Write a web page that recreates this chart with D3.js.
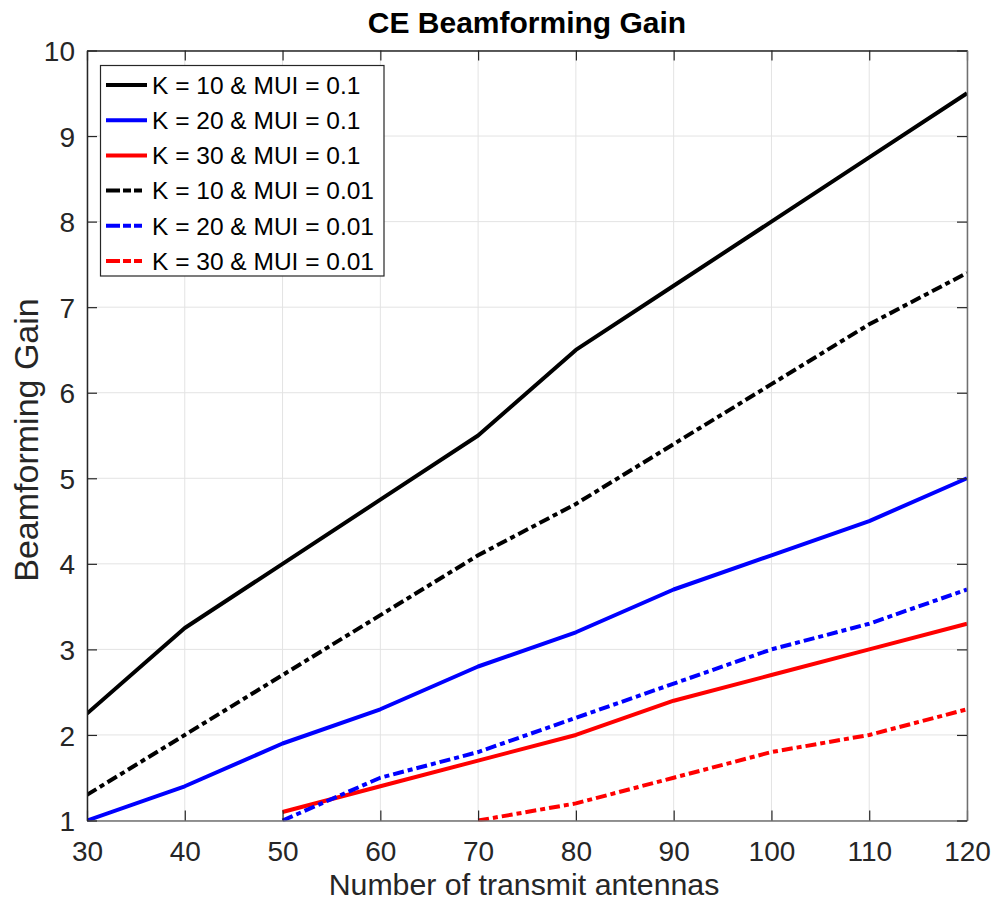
<!DOCTYPE html>
<html><head><meta charset="utf-8">
<script src="https://cdn.jsdelivr.net/npm/d3@7/dist/d3.min.js"></script>
<style>body{margin:0;background:#fff}svg{display:block;font-family:"Liberation Sans",Arial,sans-serif}</style>
</head><body><svg id="c" width="994" height="907"></svg>
<script>
const xTicks = [30,40,50,60,70,80,90,100,110,120];
const yTicks = [1,2,3,4,5,6,7,8,9,10];
const xK10a = [30,40,50,60,70,80,90,100,110,120];
const yK10a = [2.25,3.25,4.0,4.75,5.5,6.5,7.25,8.0,8.75,9.5];
const xK20a = [30,40,50,60,70,80,90,100,110,120];
const yK20a = [1.0,1.4,1.9,2.3,2.8,3.2,3.7,4.1,4.5,5.0];
const xK30a = [50,60,70,80,90,100,110,120];
const yK30a = [1.1,1.4,1.7,2.0,2.4,2.7,3.0,3.3];
const xK10b = [30,40,50,60,70,80,90,100,110,120];
const yK10b = [1.3,2.0,2.7,3.4,4.1,4.7,5.4,6.1,6.8,7.4];
const xK20b = [50,60,70,80,90,100,110,120];
const yK20b = [1.0,1.5,1.8,2.2,2.6,3.0,3.3,3.7];
const xK30b = [70,80,90,100,110,120];
const yK30b = [1.0,1.2,1.5,1.8,2.0,2.3];
const seriesNames = ["K = 10 & MUI = 0.1","K = 20 & MUI = 0.1","K = 30 & MUI = 0.1","K = 10 & MUI = 0.01","K = 20 & MUI = 0.01","K = 30 & MUI = 0.01"];
const colors = ["#000000","#0000ff","#ff0000","#000000","#0000ff","#ff0000"];
const dashed = [false,false,false,true,true,true];
const xs = [xK10a,xK20a,xK30a,xK10b,xK20b,xK30b];
const ys = [yK10a,yK20a,yK30a,yK10b,yK20b,yK30b];

const L=87,T=50.5,R=967,B=820.5;
const svg=d3.select("#c");
const x=d3.scaleLinear().domain([30,120]).range([L,R]);
const y=d3.scaleLinear().domain([1,10]).range([B,T]);
const grid=svg.append("g");
grid.selectAll(".gx").data(xTicks).join("line").attr("x1",d=>x(d)).attr("x2",d=>x(d)).attr("y1",T).attr("y2",B).attr("stroke","#e3e3e3").attr("stroke-width",1);
grid.selectAll(".gy").data(yTicks).join("line").attr("y1",d=>y(d)).attr("y2",d=>y(d)).attr("x1",L).attr("x2",R).attr("stroke","#e3e3e3").attr("stroke-width",1);

svg.append("clipPath").attr("id","pc").append("rect").attr("x",L).attr("y",T-3).attr("width",R-L+2).attr("height",B-T+4);
const line=d3.line().x(d=>x(d[0])).y(d=>y(d[1]));
const lg=svg.append("g").attr("clip-path","url(#pc)");
xs.forEach((xv,i)=>{
  lg.append("path").datum(xv.map((v,j)=>[v,ys[i][j]])).attr("d",line).attr("fill","none")
    .attr("stroke",colors[i]).attr("stroke-width",4).attr("stroke-linejoin","round")
    .attr("stroke-dasharray",dashed[i]?"11,4,5,4":null);
});

const ax=svg.append("g");
const xb=d3.axisBottom(x).tickValues(xTicks).tickSizeInner(-10).tickSizeOuter(0).tickPadding(21);
const yl=d3.axisLeft(y).tickValues(yTicks).tickSizeInner(-10).tickSizeOuter(0).tickPadding(12);
const gx=ax.append("g").attr("transform",`translate(0,${B})`).call(xb);
const gy=ax.append("g").attr("transform",`translate(${L},0)`).call(yl);
const gxt=ax.append("g").attr("transform",`translate(0,${T})`).call(d3.axisTop(x).tickValues(xTicks).tickSizeInner(-10).tickSizeOuter(0).tickFormat(""));
const gyr=ax.append("g").attr("transform",`translate(${R},0)`).call(d3.axisRight(y).tickValues(yTicks).tickSizeInner(-10).tickSizeOuter(0).tickFormat(""));
[gx,gy,gxt,gyr].forEach(g=>{
  g.select(".domain").attr("stroke","#262626").attr("stroke-width",1.5);
  g.selectAll(".tick line").attr("stroke","#262626").attr("stroke-width",1.2);
  g.selectAll("text").attr("fill","#262626").style("font-size","28px").style("font-family","Liberation Sans, Arial, sans-serif");
});
gx.selectAll(".tick text").attr("dy","0.71em");
gy.selectAll(".tick text").attr("dy","0.36em");
[gx,gyr].forEach(g=>g.select(".domain").attr("stroke","#707070"));

svg.append("text").attr("x",527).attr("y",33).attr("text-anchor","middle").attr("font-weight","bold").attr("font-size",30).attr("fill","#000").text("CE Beamforming Gain");
svg.append("text").attr("x",524).attr("y",895).attr("text-anchor","middle").attr("font-size",30.3).attr("fill","#262626").text("Number of transmit antennas");
svg.append("text").attr("transform",`translate(38,440) rotate(-90)`).attr("text-anchor","middle").attr("font-size",34).attr("fill","#262626").text("Beamforming Gain");

const leg=svg.append("g");
leg.append("rect").attr("x",100.5).attr("y",65.5).attr("width",283.5).attr("height",210.5).attr("fill","#fff").attr("stroke","#262626").attr("stroke-width",1.2);
seriesNames.forEach((n,i)=>{
  const cy=85+i*35.2;
  leg.append("line").attr("x1",106).attr("x2",147).attr("y1",cy).attr("y2",cy).attr("stroke",colors[i]).attr("stroke-width",4).attr("stroke-dasharray",dashed[i]?"14,3,8,3,8":null);
  leg.append("text").attr("x",152).attr("y",cy).attr("dy","0.36em").attr("font-size",24.5).attr("fill","#000").text(n);
});
</script></body></html>
